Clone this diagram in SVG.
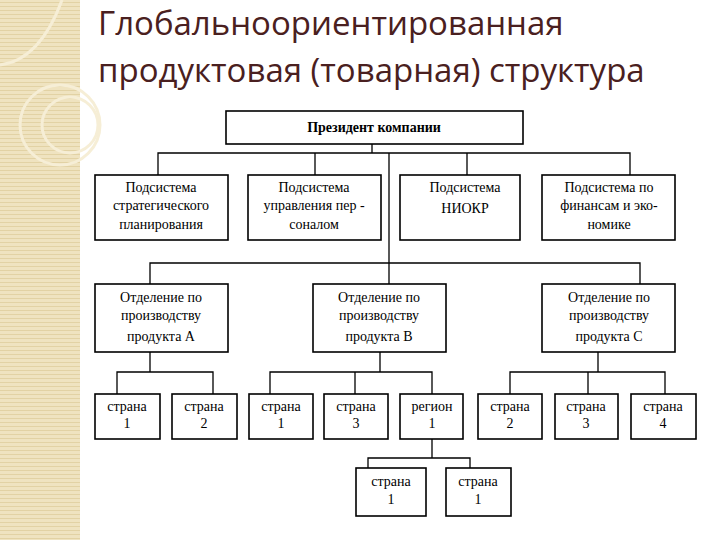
<svg xmlns="http://www.w3.org/2000/svg" width="720" height="540" viewBox="0 0 720 540">
<defs>
<pattern id="stripe" width="6" height="4" patternUnits="userSpaceOnUse"><rect width="6" height="4" fill="#efe3c0"/><rect y="2" width="6" height="1" fill="#e2d2a4"/></pattern>
<style>
.b{fill:#fff;stroke:#000;stroke-width:1.6}
.t{font-family:'Liberation Serif','Times New Roman',serif;font-size:14px;text-anchor:middle;fill:#000}
.c{fill:none;stroke:#000;stroke-width:1.3}
.h{font-family:'Open Sans','DejaVu Sans',sans-serif;font-size:33px;fill:#4a2020}
</style>
</defs>
<rect width="720" height="540" fill="#fff"/>
<rect width="80" height="540" fill="url(#stripe)"/>
<g fill="none" stroke="#f6eed6" stroke-width="3"><circle cx="60" cy="125" r="40"/><circle cx="70" cy="125" r="28"/><path d="M0 65 Q40 60 62 0"/></g>
<text class="h" x="98" y="35">Глобальноориентированная</text>
<text class="h" x="98" y="82">продуктовая (товарная) структура</text>
<g id="connectors">
<path class="c" d="M372 144V153M158 175V153H630V175M315 153V175M467 153V175M389 153V263M150 284V263H640V284M389 263V284"/>
<path class="c" d="M150 352V372M117 394V372H213V394M380 352V372M270 394V372H432V394M355 372V394M598 352V372M510 394V372H665V394M588 372V394M432 439V458M368 468V458H470V468"/>
</g>
<g id="president"><rect class="b" x="226" y="111" width="297" height="33"/><text class="t" x="374" y="132" font-weight="bold">Президент компании</text></g>
<g id="s1"><rect class="b" x="95" y="175" width="133" height="65"/><text class="t" x="161" y="192">Подсистема</text><text class="t" x="161" y="210">стратегического</text><text class="t" x="161" y="229">планирования</text></g>
<g id="s2"><rect class="b" x="248" y="175" width="133" height="65"/><text class="t" x="314" y="192">Подсистема</text><text class="t" x="314" y="210">управления пер -</text><text class="t" x="314" y="229">соналом</text></g>
<g id="s3"><rect class="b" x="400" y="175" width="120" height="65"/><text class="t" x="465" y="192">Подсистема</text><text class="t" x="465" y="213">НИОКР</text></g>
<g id="s4"><rect class="b" x="542" y="175" width="133" height="65"/><text class="t" x="609" y="192">Подсистема по</text><text class="t" x="609" y="210">финансам и эко-</text><text class="t" x="609" y="229">номике</text></g>
<g id="dA"><rect class="b" x="95" y="284" width="133" height="68"/><text class="t" x="161" y="302">Отделение по</text><text class="t" x="161" y="320">производству</text><text class="t" x="161" y="341">продукта А</text></g>
<g id="dB"><rect class="b" x="313" y="284" width="133" height="68"/><text class="t" x="379" y="302">Отделение по</text><text class="t" x="379" y="320">производству</text><text class="t" x="379" y="341">продукта В</text></g>
<g id="dC"><rect class="b" x="542" y="284" width="133" height="68"/><text class="t" x="609" y="302">Отделение по</text><text class="t" x="609" y="320">производству</text><text class="t" x="609" y="341">продукта С</text></g>
<g id="a1"><rect class="b" x="95" y="394" width="65" height="45"/><text class="t" x="127" y="411">страна</text><text class="t" x="127" y="428">1</text></g>
<g id="a2"><rect class="b" x="172" y="394" width="65" height="45"/><text class="t" x="204" y="411">страна</text><text class="t" x="204" y="428">2</text></g>
<g id="b1"><rect class="b" x="249" y="394" width="64" height="45"/><text class="t" x="281" y="411">страна</text><text class="t" x="281" y="428">1</text></g>
<g id="b3"><rect class="b" x="324" y="394" width="64" height="45"/><text class="t" x="356" y="411">страна</text><text class="t" x="356" y="428">3</text></g>
<g id="reg"><rect class="b" x="400" y="394" width="63" height="45"/><text class="t" x="432" y="411">регион</text><text class="t" x="432" y="428">1</text></g>
<g id="c2"><rect class="b" x="478" y="394" width="64" height="45"/><text class="t" x="510" y="411">страна</text><text class="t" x="510" y="428">2</text></g>
<g id="c3"><rect class="b" x="555" y="394" width="63" height="45"/><text class="t" x="586" y="411">страна</text><text class="t" x="586" y="428">3</text></g>
<g id="c4"><rect class="b" x="631" y="394" width="65" height="45"/><text class="t" x="663" y="411">страна</text><text class="t" x="663" y="428">4</text></g>
<g id="r1"><rect class="b" x="356" y="468" width="70" height="48"/><text class="t" x="391" y="486">страна</text><text class="t" x="391" y="504">1</text></g>
<g id="r2"><rect class="b" x="446" y="468" width="65" height="48"/><text class="t" x="478" y="486">страна</text><text class="t" x="478" y="504">1</text></g>
</svg>
